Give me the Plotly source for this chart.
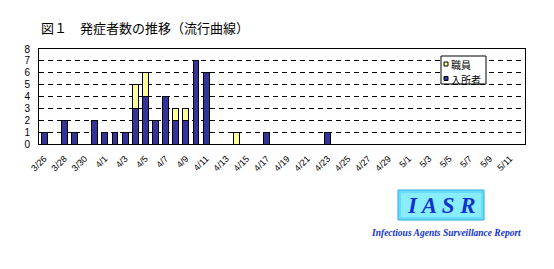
import plotly.graph_objects as go
import datetime as dt

# categories: daily from 3/26 to 5/12
start = dt.date(2000, 3, 26)
dates = [start + dt.timedelta(days=i) for i in range(48)]
categories = [f"{d.month}/{d.day}" for d in dates]

# 入所者 (residents) counts by date
resident_dates = ["3/26", "3/28", "3/29", "3/31", "4/1", "4/2", "4/3", "4/4", "4/5",
                  "4/6", "4/7", "4/8", "4/9", "4/10", "4/11", "4/17", "4/23"]
resident_vals = [1, 2, 1, 2, 1, 1, 1, 3, 4, 2, 4, 2, 2, 7, 6, 1, 1]

# 職員 (staff) counts by date
staff_dates = ["4/4", "4/5", "4/8", "4/9", "4/14"]
staff_vals = [2, 2, 1, 1, 1]

tick_labels = categories[0:48:2]

res_color = "#333399"
staff_color = "#FFFF99"

res_map = dict(zip(resident_dates, resident_vals))
staff_map = dict(zip(staff_dates, staff_vals))
res_y = [res_map.get(c, 0) for c in categories]
staff_y = [staff_map.get(c, 0) for c in categories]

fig = go.Figure()
fig.add_bar(x=categories, y=res_y, name="入所者",
            marker=dict(color=res_color, line=dict(color="black", width=1)))
fig.add_bar(x=categories, y=staff_y, name="職員",
            marker=dict(color=staff_color, line=dict(color="black", width=1)))

font_main = "MS PGothic, Noto Sans CJK JP, sans-serif"

# plot area in pixels: left 39, right 525, top 49, bottom 144
L, R, T, B = 39, 525, 49, 144
def px(x):
    return (x - L) / (R - L)
def py(y):
    return (B - y) / (B - T)

legend_shapes = [
    dict(type="rect", xref="paper", yref="paper",
         x0=px(441), x1=px(486), y0=py(84), y1=py(56),
         fillcolor="white", line=dict(color="black", width=1)),
    dict(type="rect", xref="paper", yref="paper",
         x0=px(444), x1=px(448), y0=py(66), y1=py(62),
         fillcolor=staff_color, line=dict(color="black", width=1)),
    dict(type="rect", xref="paper", yref="paper",
         x0=px(444), x1=px(448), y0=py(80.5), y1=py(76.5),
         fillcolor=res_color, line=dict(color="black", width=1)),
]
legend_ann = [
    dict(text="職員", xref="paper", yref="paper", x=px(449), y=py(64),
         xanchor="left", yanchor="middle", showarrow=False,
         font=dict(size=10, family=font_main)),
    dict(text="入所者", xref="paper", yref="paper", x=px(449), y=py(79),
         xanchor="left", yanchor="middle", showarrow=False,
         font=dict(size=10, family=font_main)),
]

fig.update_layout(
    barmode="stack",
    bargap=0.42,
    width=554, height=269,
    margin=dict(l=L, r=554 - R, t=T, b=269 - B),
    paper_bgcolor="white", plot_bgcolor="white",
    font=dict(family=font_main, color="black", size=10),
    showlegend=False,
    annotations=[
        dict(text="図１　発症者数の推移（流行曲線）", xref="paper", yref="paper",
             x=0, y=1, xanchor="left", yanchor="bottom", yshift=10,
             showarrow=False, font=dict(size=13, family=font_main)),
        dict(text="<b><i>I A S R</i></b>", xref="paper", yref="paper",
             x=px(441), y=py(205), xanchor="center", yanchor="middle",
             showarrow=False,
             font=dict(size=23, family="Liberation Serif, serif", color="#1133CC")),
        dict(text="<b><i>Infectious Agents Surveillance Report</i></b>", xref="paper", yref="paper",
             x=px(446), y=py(233), xanchor="center", yanchor="middle",
             showarrow=False,
             font=dict(size=9.5, family="Liberation Serif, serif", color="#1133CC")),
    ] + legend_ann,
    shapes=[
        dict(type="rect", xref="paper", yref="paper",
             x0=px(398), x1=px(484), y0=py(220), y1=py(190),
             fillcolor="#66DDFF", line=dict(color="#33AADD", width=1), layer="below"),
        dict(type="rect", xref="paper", yref="paper",
             x0=px(401), x1=px(481), y0=py(217), y1=py(193),
             fillcolor="#88EEFF", line=dict(width=0), layer="below"),
    ] + legend_shapes,
)

fig.update_xaxes(
    type="category", categoryorder="array", categoryarray=categories,
    tickvals=tick_labels, ticktext=tick_labels, tickangle=-45,
    tickfont=dict(size=9, family="Liberation Sans, sans-serif"),
    ticklabelstandoff=5,
    showline=True, linecolor="black", linewidth=1, mirror=True,
    showgrid=False, ticks="", range=[-0.5, 47.5],
)
fig.update_yaxes(
    range=[0, 8], dtick=1, tickvals=list(range(0, 9)),
    showline=True, linecolor="black", linewidth=1, mirror=True,
    showgrid=True, gridcolor="black", griddash="5px,4px", gridwidth=1,
    zeroline=False, ticks="", ticklabelstandoff=6,
    tickfont=dict(size=10, family="Liberation Sans, sans-serif"),
)

fig.write_html("out.html")
